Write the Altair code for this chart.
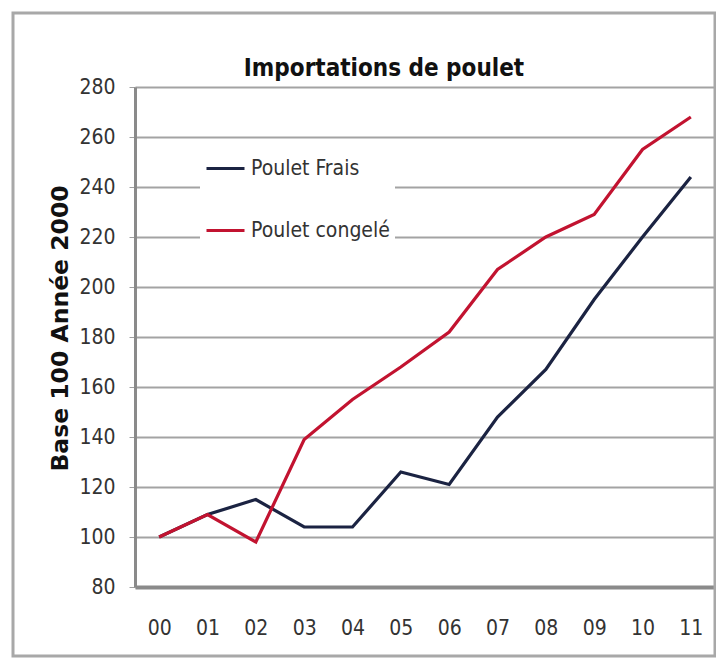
import altair as alt
import pandas as pd

years = ["00", "01", "02", "03", "04", "05", "06", "07", "08", "09", "10", "11"]
frais = [100, 109, 115, 104, 104, 126, 121, 148, 167, 195, 220, 244]
congele = [100, 109, 98, 139, 155, 168, 182, 207, 220, 229, 255, 268]
series = ["Poulet Frais", "Poulet congelé"]
colors = ["#1b2342", "#c21330"]
y_ticks = [80, 100, 120, 140, 160, 180, 200, 220, 240, 260, 280]
chart_title = "Importations de poulet"

rows = []
for name, vals in zip(series, [frais, congele]):
    for yr, v in zip(years, vals):
        rows.append({"Année": yr, "Indice": v, "Série": name})
df = pd.DataFrame(rows)

FONT = "Liberation Sans Narrow, DejaVu Sans Condensed, sans-serif"

lines = alt.Chart(df).mark_line(strokeWidth=3.2, strokeJoin="miter").encode(
    x=alt.X("Année:O", sort=years,
            scale=alt.Scale(type="point", padding=0.5),
            axis=alt.Axis(title=None, labelAngle=0, ticks=False, labelPadding=30,
                          labelFont=FONT, labelFontSize=21, labelColor="#333333",
                          domainColor="#8a8a8a", domainWidth=4, grid=False)),
    y=alt.Y("Indice:Q",
            scale=alt.Scale(domain=[80, 280], nice=False, zero=False),
            axis=alt.Axis(values=y_ticks, title="Base 100 Année 2000",
                          titleFont="DejaVu Sans", titleFontSize=23.5, titleFontWeight="bold",
                          titleColor="#111111", titleX=-75, titleY=241,
                          titleAlign="center", titleBaseline="middle",
                          labelFont=FONT, labelFontSize=21, labelColor="#333333",
                          labelPadding=14, tickSize=6, tickColor="#a0a0a0",
                          domainColor="#8a8a8a", domainWidth=3,
                          gridColor="#a3a3a3", gridWidth=2)),
    color=alt.Color("Série:N",
                    scale=alt.Scale(domain=series, range=colors),
                    legend=alt.Legend(title=None, orient="none", legendX=65, legendY=56,
                                      padding=5, fillColor="white",
                                      symbolType="stroke", symbolSize=1444,
                                      symbolStrokeWidth=3, labelOffset=5,
                                      rowPadding=31, labelFont=FONT,
                                      labelFontSize=21, labelColor="#333333")),
)

one = pd.DataFrame({"k": [0]})
frame = alt.Chart(one).mark_rect(fill=None, stroke="#a8a8a8", strokeWidth=3).encode(
    x=alt.value(-122), x2=alt.value(580), y=alt.value(-74), y2=alt.value(569)
)

title = alt.Chart(one).mark_text(font=FONT, fontSize=24, fontWeight="bold",
                                 color="#111111", align="center",
                                 baseline="alphabetic").encode(
    x=alt.value(249), y=alt.value(-11), text=alt.value(chart_title)
)

chart = alt.layer(frame, lines, title).properties(
    width=580, height=500,
    autosize=alt.AutoSizeParams(type="none"),
    padding={"left": 127, "top": 79, "right": 1, "bottom": 71},
).configure_view(stroke=None).configure(background="white")

chart.save("out.html", embed_options={"renderer": "svg", "actions": False})
